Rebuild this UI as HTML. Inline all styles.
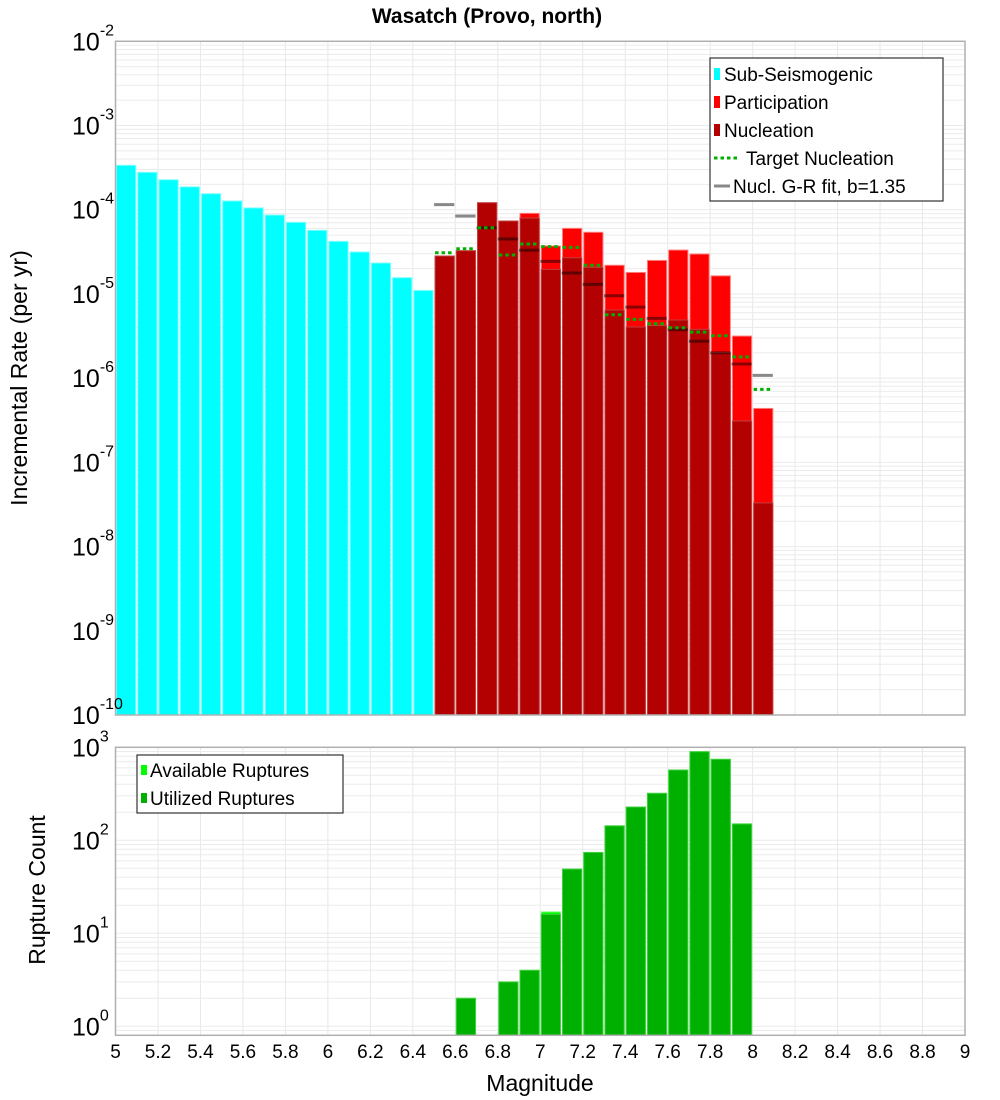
<!DOCTYPE html>
<html><head><meta charset="utf-8"><style>
body{margin:0;background:#fff;}
svg{display:block;font-family:"Liberation Sans","DejaVu Sans",sans-serif;}
</style></head><body>
<svg id="chart" width="1000" height="1100" viewBox="0 0 1000 1100" xmlns="http://www.w3.org/2000/svg">
<text x="487" y="23" text-anchor="middle" font-size="21" font-weight="bold">Wasatch (Provo, north)</text>
<g id="topg"></g><g id="botg"></g>
</svg>
<script>
const subMags=[5.05,5.15,5.25,5.35,5.45,5.55,5.65,5.75,5.85,5.95,6.05,6.15,6.25,6.35,6.45];
const subRates=[3.37e-4,2.78e-4,2.27e-4,1.87e-4,1.55e-4,1.27e-4,1.05e-4,8.65e-5,7.08e-5,5.69e-5,4.21e-5,3.15e-5,2.33e-5,1.56e-5,1.10e-5];
const supMags=[6.55,6.65,6.75,6.85,6.95,7.05,7.15,7.25,7.35,7.45,7.55,7.65,7.75,7.85,7.95,8.05];
const partRates=[2.82e-5,3.26e-5,1.21e-4,7.34e-5,9.06e-5,3.71e-5,6.01e-5,5.4e-5,2.19e-5,1.8e-5,2.5e-5,3.32e-5,2.98e-5,1.64e-5,3.16e-6,4.37e-7];
const nuclRates=[2.82e-5,3.26e-5,1.21e-4,7.34e-5,7.96e-5,1.96e-5,2.69e-5,2.07e-5,6.44e-6,4.05e-6,4.2e-6,4.9e-6,3.8e-6,2.0e-6,3.1e-7,3.3e-8];
const targetRates=[3.08e-5,3.44e-5,6.1e-5,2.9e-5,3.92e-5,3.64e-5,3.57e-5,2.19e-5,5.66e-6,4.99e-6,4.43e-6,3.97e-6,3.52e-6,3.19e-6,1.79e-6,7.36e-7];
const grRates=[1.15e-4,8.41e-5,6.1e-5,4.49e-5,3.3e-5,2.44e-5,1.77e-5,1.3e-5,9.53e-6,6.98e-6,5.13e-6,3.76e-6,2.74e-6,2.0e-6,1.47e-6,1.08e-6];
const cntMags=[6.65,6.85,6.95,7.05,7.15,7.25,7.35,7.45,7.55,7.65,7.75,7.85,7.95];
const availCounts=[2,3,4,17,49,74,143,228,320,570,897,743,150];
const usedCounts=[2,3,4,16,49,74,143,228,320,570,897,743,150];
const xTicks=[5,5.2,5.4,5.6,5.8,6,6.2,6.4,6.6,6.8,7,7.2,7.4,7.6,7.8,8,8.2,8.4,8.6,8.8,9];
const topExps=[-2,-3,-4,-5,-6,-7,-8,-9,-10];
const botExps=[3,2,1,0];
const BIN=0.1;

const NS="http://www.w3.org/2000/svg";
const X0=115.5,X1=965;
const xs=m=>X0+(m-5)/4*(X1-X0);
const T0=41.3,T1=715,yt=v=>T0+(-2-Math.log10(v))*(T1-T0)/8;
const B0=747.3,B1=1035.3,LMIN=Math.log10(0.8),yb=v=>B0+(3-Math.log10(v))*(B1-B0)/(3-LMIN);
function el(p,tag,attrs,name,txt){const e=document.createElementNS(NS,tag);for(const k in attrs)e.setAttribute(k,attrs[k]);


if(txt!==undefined)e.textContent=txt;p.appendChild(e);return e;}
const gTop=document.getElementById('topg'),gBot=document.getElementById('botg');

function grid(g,y0,y1,yf,decs){
 for(const t of xTicks)el(g,'line',{x1:xs(t),x2:xs(t),y1:y0,y2:y1,stroke:'#e8e8e8','stroke-width':1},'x-gridline');
 for(const d of decs)for(let k=1;k<10;k++){const y=yf(k*Math.pow(10,d));if(y>=y0-0.5&&y<=y1+0.5)el(g,'line',{x1:X0,x2:X1,y1:y,y2:y,stroke:'#ebebeb','stroke-width':1},'y-gridline');}
}
grid(gTop,T0,T1,yt,[-10,-9,-8,-7,-6,-5,-4,-3,-2]);
grid(gBot,B0,B1,yb,[-1,0,1,2]);

function bar(g,m,v,fill,stroke,yf,base,name){const x=xs(m-BIN/2)+1,w=xs(m+BIN/2)-xs(m-BIN/2)-2,y=yf(v);
 el(g,'rect',{x:x,y:y,width:w,height:base-y,fill:fill,stroke:stroke,'stroke-width':1},name);}
subMags.forEach((m,i)=>bar(gTop,m,subRates[i],'#00ffff','#7fffff',yt,T1,'sub-seismogenic-bar'));
supMags.forEach((m,i)=>bar(gTop,m,partRates[i],'#ff0000','#ff8080',yt,T1,'participation-bar'));
supMags.forEach((m,i)=>bar(gTop,m,nuclRates[i],'#b30000','#c04040',yt,T1,'nucleation-bar'));
supMags.forEach((m,i)=>{const y=yt(grRates[i]);el(gTop,'line',{x1:xs(m-BIN/2),x2:xs(m+BIN/2)-1,y1:y,y2:y,stroke:'#888','stroke-width':3,style:'mix-blend-mode:multiply'},'gr-fit-segment');});
supMags.forEach((m,i)=>{const y=yt(targetRates[i]);el(gTop,'line',{x1:xs(m-BIN/2)+1,x2:xs(m+BIN/2)-1,y1:y,y2:y,stroke:'#00b000','stroke-width':3,'stroke-dasharray':'3.5,3'},'target-nucleation-segment');});
cntMags.forEach((m,i)=>bar(gBot,m,availCounts[i],'#00ff00','#80ff80',yb,B1,'available-ruptures-bar'));
cntMags.forEach((m,i)=>bar(gBot,m,usedCounts[i],'#00b000','#40d040',yb,B1,'utilized-ruptures-bar'));

el(gTop,'rect',{x:X0,y:T0,width:X1-X0,height:T1-T0,fill:'none',stroke:'#b0b0b0','stroke-width':1.5},'top-plot-frame');
el(gBot,'rect',{x:X0,y:B0,width:X1-X0,height:B1-B0,fill:'none',stroke:'#b0b0b0','stroke-width':1.5},'bottom-plot-frame');

function ylab(g,y,e,name){const t=el(g,'text',{x:72,y:y+9,'font-size':25},name);
 const a=document.createElementNS(NS,'tspan');a.textContent='10';t.appendChild(a);
 const b=document.createElementNS(NS,'tspan');b.setAttribute('dy','-15');b.setAttribute('font-size','16');b.textContent=String(e);t.appendChild(b);}
topExps.forEach(e=>ylab(gTop,yt(Math.pow(10,e)),e,'y-tick-label'));
botExps.forEach(e=>ylab(gBot,yb(Math.pow(10,e)),e,'count-tick-label'));
xTicks.forEach(t=>el(gBot,'text',{x:xs(t),y:1058,'text-anchor':'middle','font-size':19},'x-tick-label',String(t)));

el(gTop,'text',{x:0,y:0,transform:'translate(27,378) rotate(-90)','text-anchor':'middle','font-size':23},'y-axis-title','Incremental Rate (per yr)');
el(gBot,'text',{x:0,y:0,transform:'translate(45,890) rotate(-90)','text-anchor':'middle','font-size':23},'count-axis-title','Rupture Count');
el(gBot,'text',{x:540,y:1091,'text-anchor':'middle','font-size':23},'x-axis-title','Magnitude');

const lg=el(gTop,'g',{},'top-legend');
el(lg,'rect',{x:710,y:58,width:233,height:143,fill:'#fff',stroke:'#333','stroke-width':1.2},'legend-box');
const items=[['sq','#00ffff','Sub-Seismogenic'],['sq','#ff0000','Participation'],['sq','#b30000','Nucleation'],['dot','#00b000','Target Nucleation'],['ln','#888','Nucl. G-R fit, b=1.35']];
items.forEach((it,i)=>{const y=74+i*28;
 if(it[0]==='sq')el(lg,'rect',{x:714,y:y-6,width:6,height:12,fill:it[1]},'legend-swatch');
 else if(it[0]==='dot')el(lg,'line',{x1:714,x2:740,y1:y,y2:y,stroke:it[1],'stroke-width':3,'stroke-dasharray':'3.5,3'},'legend-swatch');
 else el(lg,'line',{x1:714,x2:730,y1:y,y2:y,stroke:it[1],'stroke-width':3},'legend-swatch');
 const tx=it[0]==='sq'?724:(it[0]==='dot'?746:733);
 el(lg,'text',{x:tx,y:y+7,'font-size':19},'legend-entry',it[2]);});
const lb=el(gBot,'g',{},'bottom-legend');
el(lb,'rect',{x:137,y:755,width:206,height:58,fill:'#fff',stroke:'#333','stroke-width':1.2},'legend-box');
[['#00ff00','Available Ruptures'],['#00b000','Utilized Ruptures']].forEach((it,i)=>{const y=770+i*28;
 el(lb,'rect',{x:141,y:y-5,width:6,height:10,fill:it[0]},'legend-swatch');
 el(lb,'text',{x:150,y:y+7,'font-size':19},'legend-entry',it[1]);});
</script>
</body></html>
